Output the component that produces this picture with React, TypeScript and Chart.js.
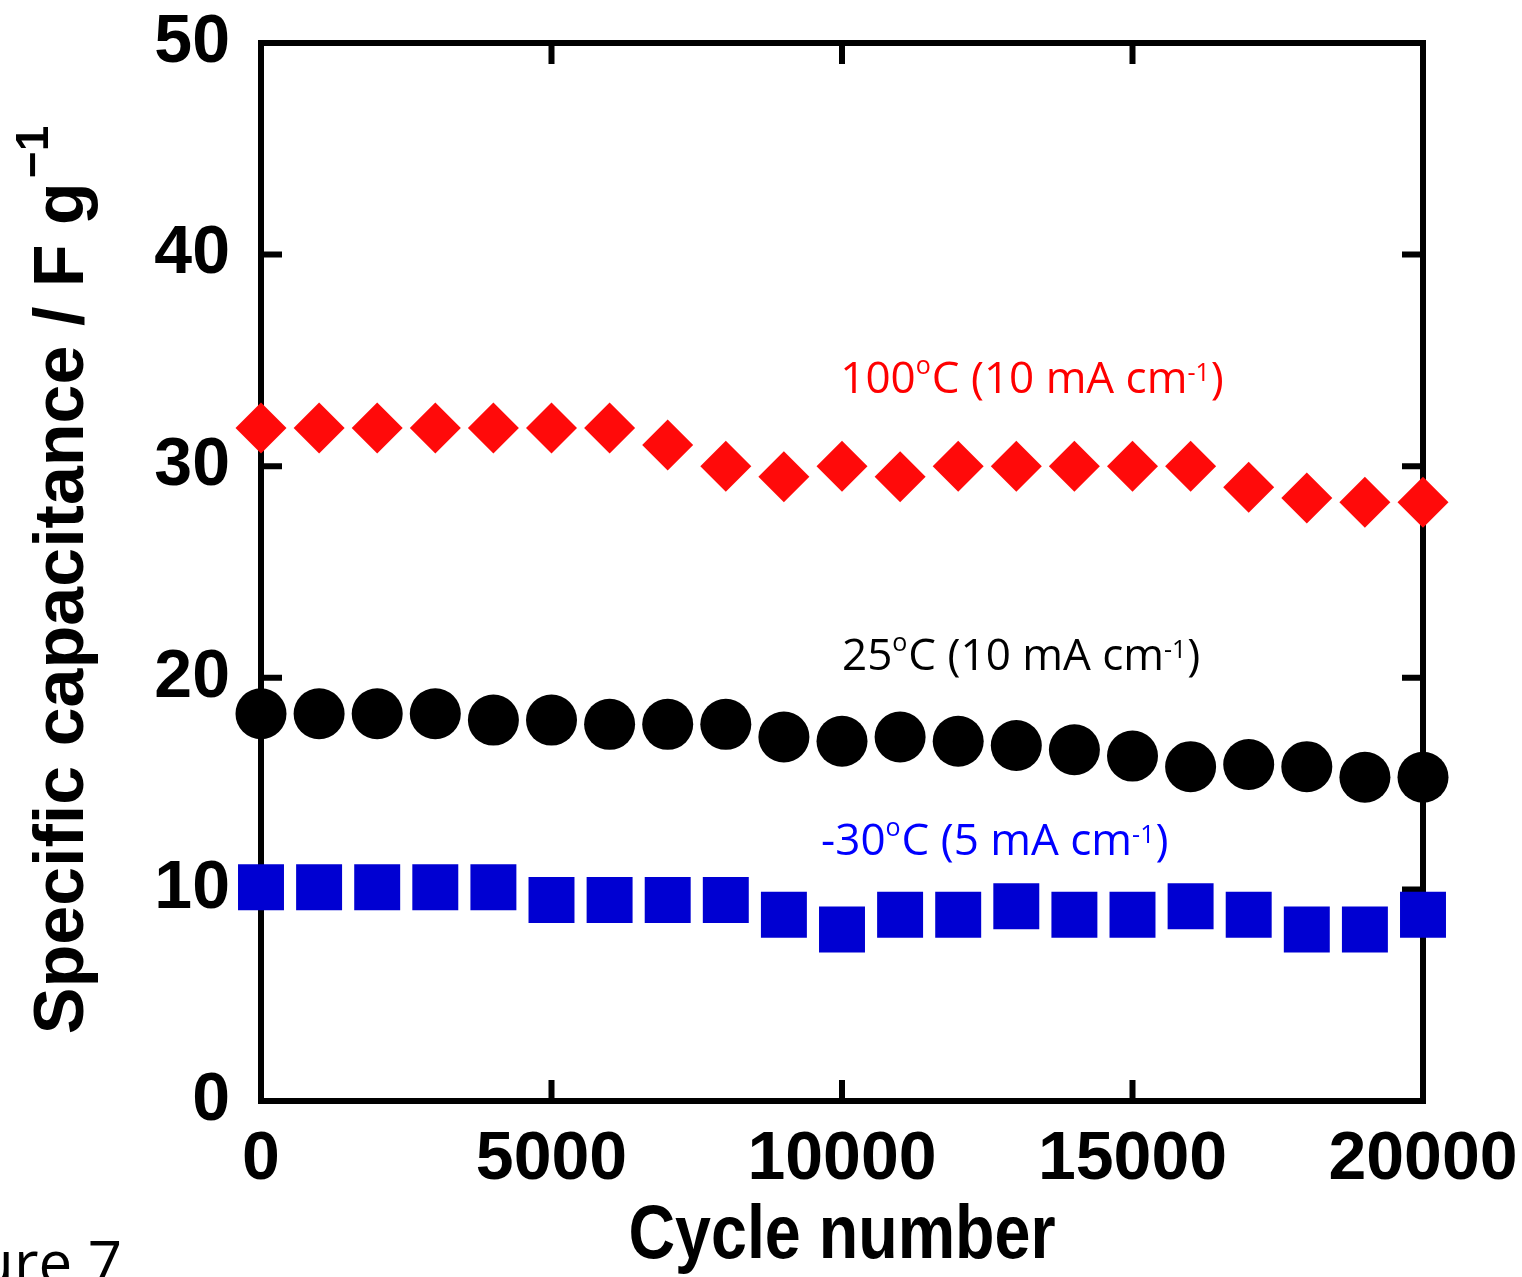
import React, { useEffect, useRef } from 'react';
import { Chart, registerables } from 'chart.js';

Chart.register(...registerables);

// ---- data ----
const cycles = [0, 1000, 2000, 3000, 4000, 5000, 6000, 7000, 8000, 9000, 10000, 11000, 12000, 13000, 14000, 15000, 16000, 17000, 18000, 19000, 20000];
const cap100C = [31.8, 31.8, 31.8, 31.8, 31.8, 31.8, 31.8, 31.0, 30.0, 29.5, 30.0, 29.5, 30.0, 30.0, 30.0, 30.0, 30.0, 29.0, 28.5, 28.3, 28.3];
const cap25C = [18.3, 18.3, 18.3, 18.3, 18.0, 18.0, 17.8, 17.8, 17.8, 17.2, 17.0, 17.2, 17.0, 16.8, 16.6, 16.3, 15.8, 15.9, 15.8, 15.3, 15.3];
const capMinus30C = [10.1, 10.1, 10.1, 10.1, 10.1, 9.5, 9.5, 9.5, 9.5, 8.8, 8.1, 8.8, 8.8, 9.2, 8.8, 8.8, 9.2, 8.8, 8.1, 8.1, 8.8];
const xTickValues = [0, 5000, 10000, 15000, 20000];
const yTickValues = [0, 10, 20, 30, 40, 50];
const xTitle = 'Cycle number';
const yTitleMain = 'Specific capacitance / F g';
const yTitleSup = '\u22121';
const figureLabel = 'Figure 7';

// series labels: text parts [text, isSuperscript], anchored (left, baseline) in data coordinates
const label100 = [['100', false], ['o', true], ['C (10 mA cm', false], ['-1', true], [')', false]];
const label25 = [['25', false], ['o', true], ['C (10 mA cm', false], ['-1', true], [')', false]];
const labelMinus30 = [['-30', false], ['o', true], ['C (5 mA cm', false], ['-1', true], [')', false]];

const annotations = [
  { parts: label100, color: '#FF0000', x: 9970, y: 33.45 },
  { parts: label25, color: '#000000', x: 10000, y: 20.37 },
  { parts: labelMinus30, color: '#0000FF', x: 9640, y: 11.63 },
];

const FONT = '"Liberation Sans", Arial, sans-serif';
const LABEL_FONT = '"Open Sans", "Noto Sans", sans-serif';

const decorPlugin = {
  id: 'decor',
  beforeDatasetsDraw(chart: any) {
    const { ctx, chartArea: a, scales } = chart;
    const x = scales.x;
    const y = scales.y;
    ctx.save();
    ctx.strokeStyle = '#000';
    ctx.lineWidth = 6;
    ctx.strokeRect(a.left, a.top, a.right - a.left, a.bottom - a.top);
    ctx.beginPath();
    const tl = 21;
    for (const v of yTickValues) {
      const py = y.getPixelForValue(v);
      ctx.moveTo(a.left, py);
      ctx.lineTo(a.left + tl, py);
      ctx.moveTo(a.right, py);
      ctx.lineTo(a.right - tl, py);
    }
    for (const v of xTickValues) {
      const px = x.getPixelForValue(v);
      ctx.moveTo(px, a.bottom);
      ctx.lineTo(px, a.bottom - tl);
      ctx.moveTo(px, a.top);
      ctx.lineTo(px, a.top + tl);
    }
    ctx.stroke();
    ctx.restore();
  },
  afterDraw(chart: any) {
    const { ctx, chartArea: a, scales } = chart;
    const x = scales.x;
    const y = scales.y;
    ctx.save();
    ctx.fillStyle = '#000';

    // x title
    ctx.save();
    ctx.font = `bold 76px ${FONT}`;
    ctx.textAlign = 'center';
    ctx.textBaseline = 'alphabetic';
    ctx.translate((a.left + a.right) / 2, 1258);
    ctx.scale(0.85, 1);
    ctx.fillText(xTitle, 0, 0);
    ctx.restore();

    // y title (rotated, with superscript)
    ctx.save();
    const mainFont = `bold 70px ${FONT}`;
    const supFont = `bold 46px ${FONT}`;
    ctx.font = mainFont;
    const wMain = ctx.measureText(yTitleMain).width;
    ctx.font = supFont;
    const wSup = ctx.measureText(yTitleSup).width;
    const gap = 4;
    const total = wMain + gap + wSup;
    const startY = (a.top + a.bottom) / 2 + 8 + total / 2;
    ctx.translate(83, startY);
    ctx.rotate(-Math.PI / 2);
    ctx.textAlign = 'left';
    ctx.textBaseline = 'alphabetic';
    ctx.font = mainFont;
    ctx.fillText(yTitleMain, 0, 0);
    ctx.font = supFont;
    ctx.fillText(yTitleSup, wMain + gap, -35);
    ctx.restore();

    // series labels
    for (const ann of annotations) {
      let px = x.getPixelForValue(ann.x);
      const py = y.getPixelForValue(ann.y);
      ctx.fillStyle = ann.color;
      ctx.textAlign = 'left';
      ctx.textBaseline = 'alphabetic';
      for (const [t, sup] of ann.parts as any) {
        if (sup) {
          ctx.font = `25px ${LABEL_FONT}`;
          const raise = t === 'o' ? 19 : 12;
          ctx.fillText(t, px, py - raise);
          px += ctx.measureText(t).width + 1;
        } else {
          ctx.font = `44px ${LABEL_FONT}`;
          ctx.fillText(t, px, py);
          px += ctx.measureText(t).width;
        }
      }
    }

    // figure label (cut off at the left edge)
    ctx.fillStyle = '#000';
    ctx.font = `60px ${LABEL_FONT}`;
    ctx.textAlign = 'right';
    ctx.textBaseline = 'alphabetic';
    ctx.fillText(figureLabel, 122, 1284);
    ctx.restore();
  },
};

const zeroPadding = (s: any) => {
  s.paddingTop = 0;
  s.paddingBottom = 0;
  s.paddingLeft = 0;
  s.paddingRight = 0;
};

export default function App() {
  const ref = useRef<HTMLCanvasElement | null>(null);

  useEffect(() => {
    if (!ref.current) return;
    const chart = new Chart(ref.current, {
      type: 'scatter',
      data: {
        datasets: [
          {
            label: '100C',
            data: cycles.map((c, i) => ({ x: c, y: cap100C[i] })),
            pointStyle: 'rectRot',
            pointRadius: 25.5,
            backgroundColor: '#FF0A0A',
            borderColor: '#FF0A0A',
            borderWidth: 0,
            showLine: false,
            clip: false as any,
          },
          {
            label: '25C',
            data: cycles.map((c, i) => ({ x: c, y: cap25C[i] })),
            pointStyle: 'circle',
            pointRadius: 25.5,
            backgroundColor: '#000000',
            borderColor: '#000000',
            borderWidth: 0,
            showLine: false,
            clip: false as any,
          },
          {
            label: '-30C',
            data: cycles.map((c, i) => ({ x: c, y: capMinus30C[i] })),
            pointStyle: 'rect',
            pointRadius: 32.5,
            backgroundColor: '#0000D2',
            borderColor: '#0000D2',
            borderWidth: 0,
            showLine: false,
            clip: false as any,
          },
        ],
      },
      options: {
        responsive: false,
        animation: false,
        events: [],
        layout: { padding: { top: 43, right: 99, left: 0, bottom: 0 } },
        plugins: {
          legend: { display: false },
          tooltip: { enabled: false },
          title: { display: false },
        },
        scales: {
          x: {
            type: 'linear',
            min: 0,
            max: 20000,
            afterBuildTicks: (s: any) => {
              s.ticks = xTickValues.map((v) => ({ value: v }));
            },
            afterFit: (s: any) => {
              s.height = 176;
              zeroPadding(s);
            },
            grid: { display: true, drawOnChartArea: false, drawTicks: false, color: 'rgba(0,0,0,0)' },
            border: { display: false },
            ticks: {
              autoSkip: false,
              maxRotation: 0,
              padding: 18,
              color: '#000',
              font: { family: FONT, size: 68, weight: 'bold' },
              callback: (v: any) => String(v),
            },
          },
          y: {
            type: 'linear',
            min: 0,
            max: 50,
            afterBuildTicks: (s: any) => {
              s.ticks = yTickValues.map((v) => ({ value: v }));
            },
            afterFit: (s: any) => {
              s.width = 261;
              zeroPadding(s);
            },
            grid: { display: true, drawOnChartArea: false, drawTicks: false, color: 'rgba(0,0,0,0)' },
            border: { display: false },
            ticks: {
              padding: 31,
              color: '#000',
              font: { family: FONT, size: 68, weight: 'bold' },
              callback: (v: any) => String(v),
            },
          },
        },
      },
      plugins: [decorPlugin],
    });
    return () => chart.destroy();
  }, []);

  return (
    <div style={{ position: 'fixed', left: 0, top: 0, width: 1522, height: 1277, background: '#fff', overflow: 'hidden' }}>
      <canvas ref={ref} width={1522} height={1277} style={{ display: 'block' }} />
    </div>
  );
}
